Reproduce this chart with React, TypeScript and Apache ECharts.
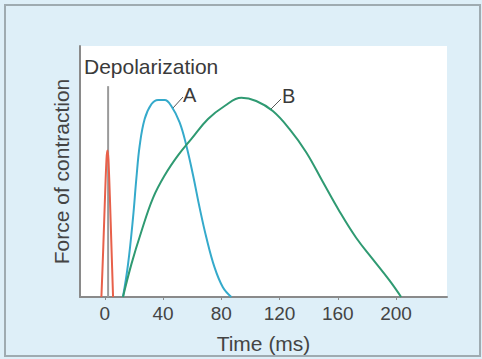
import React, { useEffect, useRef } from "react";
import * as echarts from "echarts";

const xTicks = [0, 40, 80, 120, 160, 200];
const depolarization = [[2.3, 0], [2.3, 84]];
const redTwitch = [
  [-2.3, 0], [-1, 20], [0.3, 42], [1.2, 55], [1.8, 58.4], [2.5, 55], [3.5, 40], [4.6, 20], [5.7, 0],
];
const muscleA = [
  [12.5, 0], [16, 13.1], [19.4, 31.5], [21.7, 47.2], [24, 60.4], [27.4, 70.9], [32, 76.8],
  [36.6, 78.5], [41.2, 78.5], [45.7, 76.1], [51.4, 69.6], [56, 60.4], [60.6, 48.6],
  [65.2, 35.4], [69.8, 23.6], [75.4, 11.8], [81.1, 3.9], [86.9, 0],
];
const muscleB = [
  [12.5, 0], [18.3, 13.1], [25.2, 26.2], [33.1, 39.4], [41.2, 48.5], [50.3, 56.4],
  [59.5, 63], [70.9, 70.9], [82.3, 76.1], [93.8, 79.4], [104, 78.1], [115.4, 74.1],
  [126.9, 66.9], [138.3, 57.7], [149.7, 45.9], [161.2, 34.1], [172.6, 23.6],
  [184, 15.1], [195.5, 6.6], [203.5, 0],
];

export default function App() {
  const ref = useRef<HTMLDivElement>(null);
  useEffect(() => {
    const chart = echarts.init(ref.current!, null, { renderer: "svg" });
    const font = "Liberation Sans";
    const lineSeries = (data: number[][], color: string, smooth: number) => ({
      type: "line", data, smooth, showSymbol: false,
      lineStyle: { color, width: 2 },
    });
    chart.setOption({
      animation: false,
      backgroundColor: "#deeff8",
      textStyle: { fontFamily: font },
      grid: {
        left: 80, right: 35, top: 46, bottom: 58,
        show: true, backgroundColor: "#ffffff", borderWidth: 0,
      },
      xAxis: {
        type: "value", min: -17, max: 235,
        name: "Time (ms)", nameLocation: "middle", nameGap: 36,
        nameTextStyle: { fontSize: 21, color: "#444", fontFamily: font },
        axisLine: { show: true, onZero: false, lineStyle: { color: "#8a8a8a", width: 2 } },
        axisTick: { show: true, customValues: xTicks, length: 3, lineStyle: { color: "#8a8a8a" } },
        axisLabel: { customValues: xTicks, fontSize: 19, color: "#444", margin: 7, fontFamily: font },
        splitLine: { show: false },
      },
      yAxis: {
        type: "value", min: 0, max: 100,
        name: "Force of contraction", nameLocation: "middle", nameGap: 8, nameRotate: 90,
        nameTextStyle: { fontSize: 21, color: "#444", fontFamily: font },
        axisLine: { show: true, onZero: false, lineStyle: { color: "#8a8a8a", width: 2 } },
        axisTick: { show: false },
        axisLabel: { show: false },
        splitLine: { show: false },
      },
      series: [
        { type: "line", data: depolarization, showSymbol: false, lineStyle: { color: "#9a9a9a", width: 2 } },
        lineSeries(redTwitch, "#e8604a", 0.3),
        lineSeries(muscleA, "#35aacb", 0.4),
        lineSeries(muscleB, "#2f9a72", 0.4),
      ],
      graphic: [
        {
          type: "rect", z: -10, silent: true,
          shape: { x: 5, y: 5, width: 475, height: 351 },
          style: { fill: "none", stroke: "#9fabb1", lineWidth: 2 },
        },
        {
          type: "text", x: 84, y: 56,
          style: { text: "Depolarization", fontSize: 21, fill: "#3a3a3a", fontFamily: font },
        },
        {
          type: "line", shape: { x1: 173, y1: 108, x2: 183, y2: 97 },
          style: { stroke: "#555", lineWidth: 1 },
        },
        {
          type: "text", x: 183, y: 85,
          style: { text: "A", fontSize: 20, fill: "#3a3a3a", fontFamily: font },
        },
        {
          type: "line", shape: { x1: 271, y1: 109, x2: 281, y2: 99 },
          style: { stroke: "#555", lineWidth: 1 },
        },
        {
          type: "text", x: 282, y: 86,
          style: { text: "B", fontSize: 20, fill: "#3a3a3a", fontFamily: font },
        },
      ],
    });
    return () => chart.dispose();
  }, []);
  return (
    <div
      ref={ref}
      style={{ position: "fixed", left: 0, top: 0, width: 482, height: 359 }}
    />
  );
}
